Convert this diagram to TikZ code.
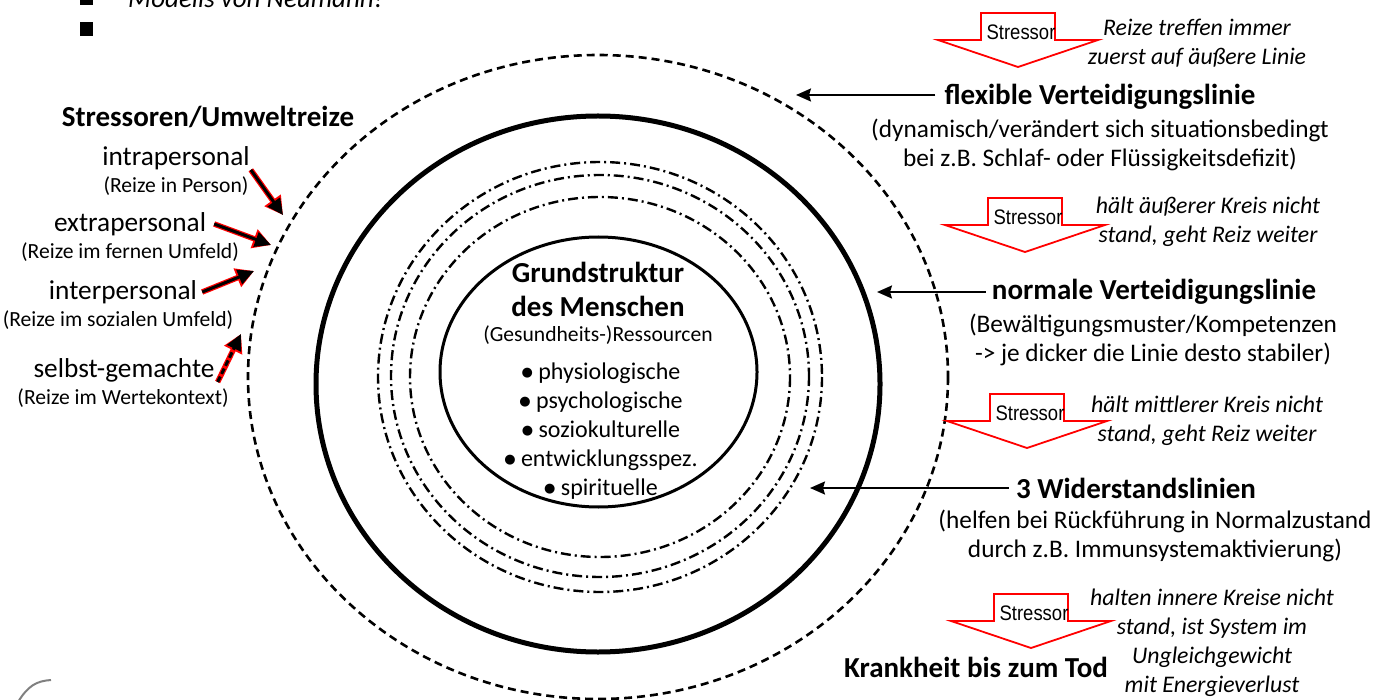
\documentclass[tikz,border=0pt]{standalone}
\usepackage{fontspec}
\setmainfont{Carlito}
\newfontfamily\arialfont{Liberation Sans}
\newfontfamily\symfont{DejaVu Sans}
\usetikzlibrary{arrows.meta}

\newcommand{\punkt}{\raisebox{2.5pt}{\symfont\fontsize{13}{13}\selectfont ●}}

\tikzset{
  titel/.style={font=\fontsize{29}{34}\selectfont\bfseries, inner sep=0pt, align=center},
  fliess/.style={font=\fontsize{25.3}{29}\selectfont, inner sep=0pt, align=center},
  klein/.style={font=\fontsize{21.6}{28}\selectfont, inner sep=0pt, align=center},
  kursiv/.style={font=\fontsize{23.8}{29}\selectfont\itshape, inner sep=0pt, align=center},
  reizlabel/.style={font=\fontsize{27.3}{30}\selectfont, inner sep=0pt},
  reiz/.style={line width=3pt, -{Triangle[length=16pt,width=15pt]},
    preaction={draw=red, line width=5.5pt, -{Triangle[length=18pt,width=19pt]}}},
  zeiger/.style={line width=2pt, -{Stealth[length=15pt,width=13pt,inset=2pt]}},
  stressorpfeil/.style={draw=red, line width=1.8pt, fill=white, line join=miter},
  stressortext/.style={font=\arialfont\fontsize{21}{21}\selectfont, inner sep=0pt}
}

\begin{document}
\begin{tikzpicture}[x=1pt,y=-1pt]
  \useasboundingbox (0,0) rectangle (1375,700);

  % Ueberschrift (oben abgeschnitten)
  \fill (80,-8) rectangle (93,5);
  \fill (80,22) rectangle (93,36);
  \node[font=\fontsize{27}{27}\selectfont\itshape, anchor=base west, inner sep=0pt] (kopf) at (128,8) {Modells von Neumann!};

  % Kreise
  \draw[line width=2.6pt, dash pattern=on 8pt off 5pt] (598,377) ellipse [x radius=350, y radius=322];
  \draw[line width=5pt] (598,384) ellipse [x radius=282, y radius=268];
  \begin{scope}[line width=2.4pt, dash pattern=on 10pt off 4pt on 2pt off 4pt]
    \draw (600,377) ellipse [x radius=222, y radius=215];
    \draw (600,376) ellipse [x radius=209, y radius=201];
    \draw (600,377) ellipse [x radius=190, y radius=180];
  \end{scope}
  \draw[line width=3pt] (598.5,372) ellipse [x radius=158.5, y radius=135];

  % Grundstruktur
  \node[titel] (kern) at (598,289) {Grundstruktur\\des Menschen};
  \node[klein] (ressourcen) at (598,335) {(Gesundheits-)Ressourcen};
  \node[fliess, font=\fontsize{24}{29}\selectfont] (liste) at (601,431) {\punkt{} physiologische\\\punkt{} psychologische\\\punkt{} soziokulturelle\\\punkt{} entwicklungsspez.\\\punkt{} spirituelle};

  % Stressoren links
  \node[titel] (stressoren) at (208,117) {Stressoren/Umweltreize};
  \node[reizlabel] (intra) at (176,158) {intrapersonal};
  \node[klein] (intrak) at (176,186) {(Reize in Person)};
  \node[reizlabel] (extra) at (130,224) {extrapersonal};
  \node[klein] (extrak) at (130,252) {(Reize im fernen Umfeld)};
  \node[reizlabel] (inter) at (123,292) {interpersonal};
  \node[klein] (interk) at (118,320) {(Reize im sozialen Umfeld)};
  \node[reizlabel] (selbst) at (124,370) {selbst-gemachte};
  \node[klein] (selbstk) at (123,398) {(Reize im Wertekontext)};

  \coordinate (t1) at (283,215);
  \coordinate (t2) at (271,245);
  \coordinate (t3) at (254,271);
  \coordinate (t4) at (241,334);
  \draw[reiz] ([xshift=1pt]intra.south east) -- (t1);
  \draw[reiz] ([xshift=8pt]extra.east) -- (t2);
  \draw[reiz] ([xshift=5pt]inter.east) -- (t3);
  \draw[reiz, dash pattern=on 6pt off 3pt] ([xshift=3pt]selbst.south east) -- (t4);

  % Linien rechts
  \node[titel] (flex) at (1100,97) {flexible Verteidigungslinie};
  \node[fliess] (flextext) at (1100,145) {(dynamisch/verändert sich situationsbedingt\\bei z.B. Schlaf- oder Flüssigkeitsdefizit)};
  \node[titel] (normal) at (1154,292) {normale Verteidigungslinie};
  \node[fliess] (normaltext) at (1153,340) {(Bewältigungsmuster/Kompetenzen\\-> je dicker die Linie desto stabiler)};
  \node[titel] (wider) at (1136,488) {3 Widerstandslinien};
  \node[fliess] (widertext) at (1155,536) {(helfen bei Rückführung in Normalzustand\\durch z.B. Immunsystemaktivierung)};
  \node[titel] (tod) at (976,667) {Krankheit bis zum Tod};

  \coordinate (flexpfeil) at (796,95);
  \coordinate (normalpfeil) at (877,292);
  \coordinate (widerpfeil) at (810,488);
  \draw[zeiger] ([xshift=-9pt,yshift=2pt]flex.west) -- (flexpfeil);
  \draw[zeiger] ([xshift=-6pt]normal.west) -- (normalpfeil);
  \draw[zeiger] ([xshift=-7pt]wider.west) -- (widerpfeil);

  % Stressor-Pfeile
  \foreach \sx/\sy [count=\i] in {1018/13, 1025/198, 1027/394, 1031/594} {
    \draw[stressorpfeil] (\sx-37,\sy) -- (\sx+37,\sy) -- (\sx+37,\sy+27) -- (\sx+80,\sy+27)
      -- (\sx,\sy+54) -- (\sx-80,\sy+27) -- (\sx-37,\sy+27) -- cycle;
    \node[stressortext] (stressor\i) at (\sx+3,\sy+19) {\scalebox{0.88}[1]{Stressor}};
  }

  \node[kursiv] (hinweis1) at (1197,43) {Reize treffen immer\\zuerst auf äußere Linie};
  \node[kursiv] (hinweis2) at (1208,222) {hält äußerer Kreis nicht\\stand, geht Reiz weiter};
  \node[kursiv] (hinweis3) at (1207,421) {hält mittlerer Kreis nicht\\stand, geht Reiz weiter};
  \node[kursiv] (hinweis4) at (1212,643) {halten innere Kreise nicht\\stand, ist System im\\Ungleichgewicht\\mit Energieverlust};

  % Rest unten links
  \draw[gray, line width=2pt] (18,702) .. controls (28,686) and (36,681) .. (51,680);
\end{tikzpicture}
\end{document}
